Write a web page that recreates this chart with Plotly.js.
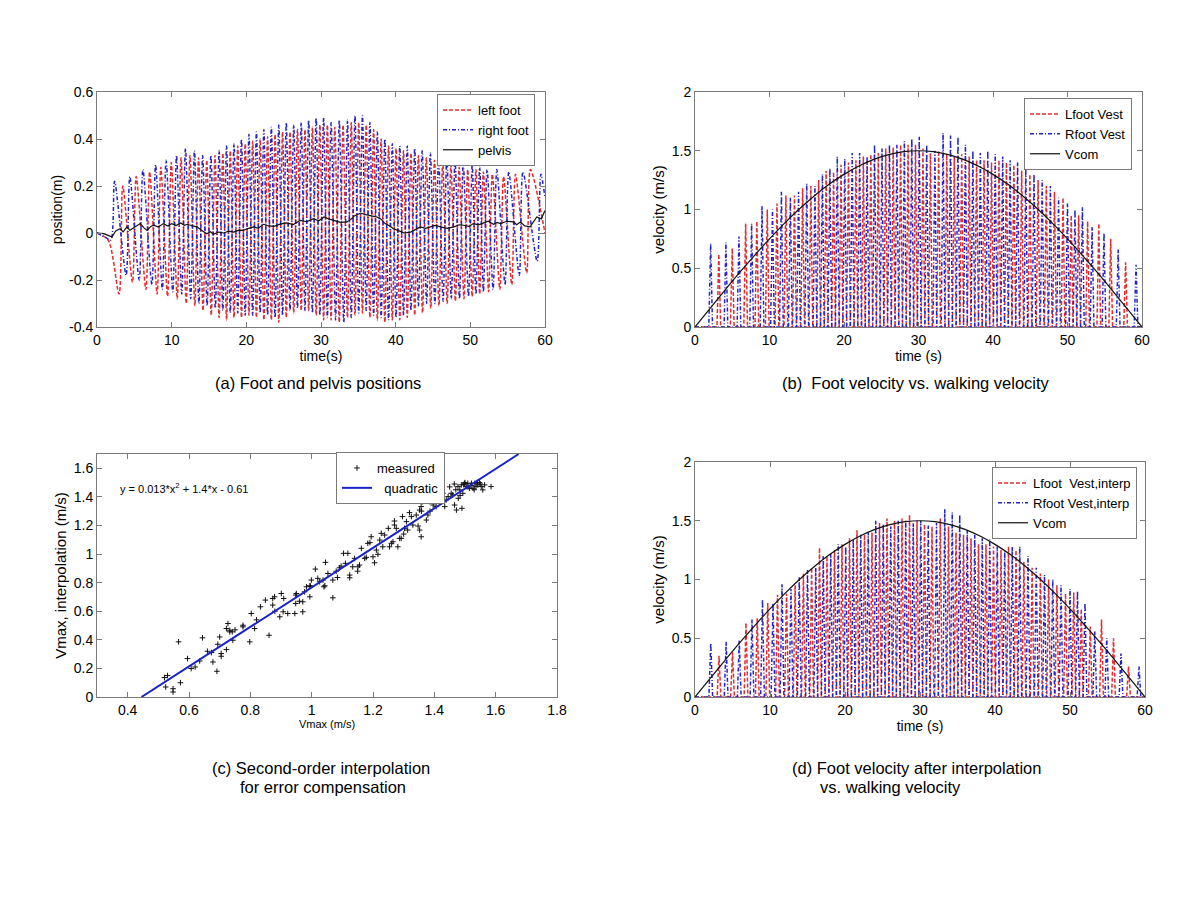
<!DOCTYPE html>
<html><head><meta charset="utf-8">
<script src="https://cdn.plot.ly/plotly-3.0.1.min.js"></script>
<style>html,body{margin:0;padding:0;background:#fff}#chart{width:1200px;height:900px}</style>
</head><body><div id="chart"></div>
<script>
// ---------------- DATA ----------------
// Gait events: time of each swing (velocity peak) for each foot, seconds
const leftStepT = [3.2,5.0,6.8,8.3,9.7,11.0,12.2,13.35,14.45,15.55,16.6,17.6,18.6,19.6,20.6,21.6,22.6,23.6,24.6,25.6,26.6,27.6,28.6,29.6,30.6,31.6,32.7,33.8,34.8,35.8,36.8,37.8,38.8,39.8,40.8,41.8,42.8,43.85,44.95,46.05,47.15,48.25,49.4,50.5,51.5,52.7,54.2,55.8,57.8];
const rightStepT = [2.1,4.15,5.9,7.6,9.0,10.4,11.6,12.8,13.9,15.0,16.1,17.1,18.1,19.1,20.1,21.1,22.1,23.1,24.1,25.1,26.1,27.1,28.1,29.1,30.1,31.1,32.2,33.3,34.3,35.3,36.3,37.3,38.3,39.3,40.3,41.3,42.3,43.3,44.4,45.5,46.6,47.7,48.8,50.0,51.0,52.0,53.3,54.9,56.8,59.2];

// (a) foot positions: value at end of each swing (max) and start of each swing (min), m
const leftPosMax = [0.20,0.24,0.26,0.28,0.30,0.32,0.33,0.32,0.31,0.33,0.34,0.35,0.37,0.38,0.39,0.40,0.41,0.42,0.43,0.43,0.44,0.44,0.45,0.46,0.46,0.45,0.46,0.47,0.47,0.46,0.44,0.40,0.37,0.36,0.35,0.34,0.33,0.32,0.31,0.30,0.29,0.28,0.27,0.27,0.26,0.25,0.24,0.25,0.27];
const leftPosMin = [-0.26,-0.21,-0.24,-0.26,-0.27,-0.28,-0.30,-0.31,-0.33,-0.35,-0.36,-0.37,-0.36,-0.36,-0.35,-0.36,-0.37,-0.37,-0.38,-0.36,-0.34,-0.33,-0.33,-0.35,-0.37,-0.37,-0.38,-0.36,-0.35,-0.34,-0.36,-0.37,-0.38,-0.37,-0.37,-0.36,-0.35,-0.34,-0.32,-0.31,-0.30,-0.29,-0.28,-0.27,-0.26,-0.25,-0.24,-0.22,-0.17];
const rightPosMax = [0.22,0.24,0.27,0.29,0.31,0.33,0.36,0.35,0.33,0.33,0.35,0.37,0.38,0.40,0.42,0.43,0.44,0.45,0.46,0.47,0.46,0.47,0.48,0.49,0.49,0.47,0.48,0.48,0.50,0.50,0.47,0.43,0.40,0.38,0.37,0.37,0.36,0.35,0.34,0.33,0.32,0.31,0.30,0.29,0.28,0.27,0.27,0.26,0.26,0.25];
const rightPosMin = [-0.03,-0.18,-0.20,-0.22,-0.24,-0.25,-0.26,-0.28,-0.30,-0.31,-0.32,-0.33,-0.34,-0.34,-0.35,-0.35,-0.34,-0.35,-0.36,-0.35,-0.33,-0.32,-0.33,-0.34,-0.35,-0.36,-0.37,-0.38,-0.36,-0.34,-0.33,-0.35,-0.36,-0.37,-0.36,-0.35,-0.33,-0.31,-0.30,-0.30,-0.29,-0.28,-0.28,-0.27,-0.26,-0.25,-0.24,-0.22,-0.18,-0.12];
const leftPosStartT = [0, 1.5];   const leftPosStartY = [0, -0.03];
const rightPosStartT = [0, 1.2];  const rightPosStartY = [0, -0.02];
const leftPosEndT = [60];         const leftPosEndY = [0.0];
const rightPosEndT = [60];        const rightPosEndY = [0.15];

const pelvisT = [0,0.9,1.5,2.0,2.5,3.1,3.5,4.0,4.4,4.7,5.2,5.8,6.3,6.7,7.2,7.6,8.2,8.9,9.5,10.0,10.6,11.2,11.7,12.1,12.8,13.4,14.0,14.7,15.2,15.6,16.3,17.0,17.6,18.3,19.0,19.6,20.3,21.0,21.6,22.3,23.0,23.7,24.5,25.4,26.3,27.2,28.1,29.0,29.7,30.4,31.0,31.7,32.6,33.5,34.0,34.4,35.3,36.0,36.6,37.5,38.0,38.6,39.2,39.7,40.4,41.1,42.0,42.6,43.3,44.0,44.6,45.3,46.0,46.9,47.8,48.5,49.1,49.8,50.4,51.1,51.8,52.4,53.1,53.6,54.0,54.9,55.8,56.2,56.7,57.3,58.0,58.5,58.9,59.5,60];
const pelvisY = [0,-0.003,-0.01,-0.017,0.009,0.018,0.005,0.026,0.012,0.018,0.03,0.04,0.022,0.011,0.028,0.033,0.025,0.04,0.03,0.04,0.032,0.043,0.033,0.037,0.03,0.026,0.012,-0.003,0.005,-0.006,0.004,0,0.008,0.004,0.012,0.011,0.02,0.026,0.02,0.037,0.03,0.028,0.038,0.043,0.036,0.054,0.048,0.061,0.052,0.068,0.06,0.054,0.045,0.047,0.058,0.071,0.085,0.078,0.075,0.068,0.06,0.04,0.03,0.018,0.01,0,0.004,0.015,0.026,0.02,0.026,0.032,0.026,0.02,0.026,0.035,0.033,0.028,0.04,0.035,0.043,0.05,0.037,0.045,0.04,0.05,0.047,0.035,0.047,0.03,0.026,0.05,0.068,0.06,0.096];

// (b) peak foot velocity per swing, m/s
const leftVestPeak = [0.62,0.67,0.88,0.90,1.00,1.05,1.12,1.12,1.18,1.20,1.25,1.33,1.32,1.38,1.40,1.42,1.45,1.47,1.48,1.52,1.53,1.55,1.55,1.55,1.52,1.48,1.50,1.47,1.45,1.47,1.45,1.42,1.42,1.40,1.42,1.40,1.38,1.33,1.30,1.25,1.20,1.15,1.10,0.95,0.95,0.90,0.88,0.75,0.55];
const rightVestPeak = [0.71,0.72,0.77,0.88,1.03,1.00,1.15,1.10,1.15,1.22,1.20,1.30,1.35,1.45,1.43,1.48,1.48,1.45,1.55,1.52,1.55,1.55,1.58,1.60,1.62,1.55,1.50,1.65,1.63,1.62,1.55,1.50,1.48,1.50,1.47,1.45,1.42,1.40,1.35,1.30,1.25,1.20,1.10,1.05,1.00,1.02,0.85,0.80,0.66,0.53];
// (d) peak foot velocity after interpolation, m/s
const leftInterpPeak = [0.35,0.38,0.63,0.67,0.80,0.87,0.88,0.95,1.05,1.10,1.27,1.20,1.25,1.30,1.35,1.42,1.38,1.40,1.48,1.52,1.50,1.52,1.55,1.50,1.47,1.45,1.52,1.45,1.40,1.38,1.35,1.30,1.30,1.28,1.25,1.28,1.25,1.15,1.10,1.05,1.00,0.95,0.88,0.89,0.75,0.60,0.66,0.50,0.26];
const rightInterpPeak = [0.46,0.47,0.48,0.66,0.83,0.80,0.96,0.92,1.02,1.08,1.10,1.20,1.22,1.30,1.28,1.34,1.38,1.40,1.50,1.47,1.45,1.50,1.50,1.48,1.50,1.46,1.48,1.60,1.57,1.55,1.42,1.38,1.35,1.34,1.28,1.24,1.28,1.28,1.20,1.10,1.04,1.00,0.95,0.92,0.90,0.80,0.56,0.50,0.37,0.26];

// walking (centre of mass) velocity
const vcomT = [0,2,4,6,8,10,12,14,16,18,20,22,24,26,28,30,32,34,36,38,40,42,44,46,48,50,52,54,56,58,60];
const vcomV = [0,0.157,0.312,0.464,0.610,0.750,0.882,1.004,1.115,1.214,1.299,1.370,1.427,1.467,1.492,1.500,1.492,1.467,1.427,1.370,1.299,1.214,1.115,1.004,0.882,0.750,0.610,0.464,0.312,0.157,0];

// (c) measured points and fitted quadratic
const measX = [0.520,0.524,0.548,0.548,0.566,0.572,0.595,0.607,0.644,0.635,0.673,0.678,0.694,0.705,0.705,0.722,0.722,0.727,0.733,0.733,0.741,0.743,0.776,0.776,0.798,0.803,0.814,0.833,0.849,0.861,0.873,0.873,0.879,0.896,0.901,0.907,0.909,0.922,0.945,0.948,0.948,0.950,0.971,0.971,0.977,0.983,0.994,0.994,0.996,0.999,1.012,1.026,1.037,1.040,1.043,1.045,1.053,1.069,1.069,1.084,1.091,1.096,1.104,1.110,1.118,1.124,1.124,1.134,1.140,1.151,1.156,1.162,1.173,1.178,1.183,1.194,1.200,1.205,1.211,1.216,1.222,1.227,1.232,1.238,1.254,1.260,1.265,1.270,1.270,1.276,1.281,1.287,1.292,1.296,1.303,1.309,1.313,1.319,1.325,1.330,1.341,1.347,1.352,1.352,1.357,1.357,1.362,1.374,1.379,1.385,1.396,1.400,1.406,1.411,1.417,1.428,1.434,1.439,1.445,1.455,1.460,1.466,1.472,1.477,1.483,1.488,1.493,1.498,1.504,1.509,1.515,1.521,1.526,1.532,1.536,1.542,1.547,1.553,1.558,1.564,1.585,1.478,1.484,1.470,1.450,1.420,1.386,1.358,1.490,1.500,1.520,1.540,1.510,1.530,1.550,1.496,1.465,1.300,1.250,1.190,1.150,1.080,1.020,0.960,0.880,0.820,0.750,0.700,0.660,0.620,0.530,0.691];
const measY = [0.136,0.070,0.058,0.035,0.386,0.100,0.269,0.199,0.414,0.252,0.311,0.245,0.369,0.304,0.285,0.332,0.479,0.514,0.456,0.467,0.456,0.397,0.502,0.491,0.386,0.584,0.479,0.631,0.678,0.432,0.689,0.643,0.701,0.561,0.724,0.596,0.689,0.584,0.584,0.654,0.713,0.724,0.596,0.666,0.736,0.771,0.701,0.778,0.776,0.818,0.895,0.806,0.818,0.771,0.778,0.942,0.864,0.694,0.818,0.836,0.904,0.916,1.005,0.935,1.005,0.853,0.834,0.911,0.970,0.911,0.923,1.040,0.970,0.977,1.075,1.121,0.981,0.939,1.028,0.998,1.098,1.145,1.051,1.133,1.051,1.075,1.086,1.203,1.231,1.180,1.051,1.110,1.110,1.262,1.180,1.227,1.168,1.290,1.262,1.203,1.273,1.196,1.308,1.168,1.121,1.332,1.367,1.238,1.273,1.367,1.343,1.425,1.332,1.390,1.414,1.425,1.332,1.379,1.402,1.425,1.414,1.343,1.308,1.472,1.449,1.484,1.425,1.495,1.472,1.495,1.460,1.495,1.460,1.495,1.472,1.484,1.500,1.472,1.449,1.484,1.472,1.390,1.410,1.450,1.470,1.380,1.300,1.300,1.320,1.500,1.480,1.500,1.470,1.450,1.490,1.485,1.490,1.140,1.180,1.080,0.880,0.880,0.830,0.670,0.600,0.540,0.470,0.420,0.320,0.210,0.150,0.180];
const quadX = [0.445, 0.8, 1.2, 1.675];
const quadY = [0, 0.49, 1.043, 1.7];

// tick labels
const posTickVals = [-0.4,-0.2,0,0.2,0.4,0.6];
const posTickText = ['-0.4','-0.2','0','0.2','0.4','0.6'];

// ---------------- BUILD ----------------
const SW = 0.25; // half duration of a swing stroke (s)
const RED = 'rgb(225,45,45)', BLUE = 'rgb(35,35,195)';

function velSeries(stepT, peak) {
  const x = [0], y = [0];
  stepT.forEach((t, i) => { x.push(t - SW, t, t + SW); y.push(0, peak[i], 0); });
  x.push(60); y.push(0);
  return {x, y};
}
function posSeries(st, sy, stepT, mn, mx, et, ey) {
  const x = st.slice(), y = sy.slice();
  stepT.forEach((t, i) => { x.push(t - SW, t + SW); y.push(mn[i], mx[i]); });
  et.forEach((t, i) => { x.push(t); y.push(ey[i]); });
  return {x, y};
}

const lp = posSeries(leftPosStartT, leftPosStartY, leftStepT, leftPosMin, leftPosMax, leftPosEndT, leftPosEndY);
const rp = posSeries(rightPosStartT, rightPosStartY, rightStepT, rightPosMin, rightPosMax, rightPosEndT, rightPosEndY);
const lv = velSeries(leftStepT, leftVestPeak), rv = velSeries(rightStepT, rightVestPeak);
const li = velSeries(leftStepT, leftInterpPeak), ri = velSeries(rightStepT, rightInterpPeak);

const redLine = {color: RED, width: 1.5, dash: '4px,2px'};
const blueLine = {color: BLUE, width: 1.5, dash: '4px,2px,1px,2px'};

const traces = [
  {x: lp.x, y: lp.y, xaxis: 'x', yaxis: 'y', name: 'left foot', mode: 'lines', line: Object.assign({shape: 'spline', smoothing: 0.8}, redLine), legend: 'legend'},
  {x: rp.x, y: rp.y, xaxis: 'x', yaxis: 'y', name: 'right foot', mode: 'lines', line: Object.assign({shape: 'spline', smoothing: 0.8}, blueLine), legend: 'legend'},
  {x: pelvisT, y: pelvisY, xaxis: 'x', yaxis: 'y', name: 'pelvis', mode: 'lines', line: {color: '#111', width: 1.2}, legend: 'legend'},

  {x: lv.x, y: lv.y, xaxis: 'x2', yaxis: 'y2', name: 'Lfoot Vest', mode: 'lines', line: redLine, legend: 'legend2'},
  {x: rv.x, y: rv.y, xaxis: 'x2', yaxis: 'y2', name: 'Rfoot Vest', mode: 'lines', line: blueLine, legend: 'legend2'},
  {x: vcomT, y: vcomV, xaxis: 'x2', yaxis: 'y2', name: 'Vcom', mode: 'lines', line: {color: '#111', width: 1.2, shape: 'spline'}, legend: 'legend2'},

  {x: measX, y: measY, xaxis: 'x3', yaxis: 'y3', name: 'measured', mode: 'markers', marker: {symbol: 'cross-thin', size: 4, color: '#111', line: {width: 1, color: '#111'}}, legend: 'legend3'},
  {x: quadX, y: quadY, xaxis: 'x3', yaxis: 'y3', name: '  quadratic', mode: 'lines', line: {color: 'rgb(25,35,200)', width: 2, shape: 'spline'}, legend: 'legend3'},

  {x: li.x, y: li.y, xaxis: 'x4', yaxis: 'y4', name: 'Lfoot  Vest,interp', mode: 'lines', line: redLine, legend: 'legend4'},
  {x: ri.x, y: ri.y, xaxis: 'x4', yaxis: 'y4', name: 'Rfoot Vest,interp', mode: 'lines', line: blueLine, legend: 'legend4'},
  {x: vcomT, y: vcomV, xaxis: 'x4', yaxis: 'y4', name: 'Vcom', mode: 'lines', line: {color: '#111', width: 1.2, shape: 'spline'}, legend: 'legend4'}
];

function ax(extra) {
  return Object.assign({showline: true, mirror: 'ticks', linecolor: '#7a7a7a', linewidth: 1,
    ticks: 'inside', ticklen: 5, tickcolor: '#7a7a7a', showgrid: false, zeroline: false,
    tickfont: {size: 14, color: '#000'}, automargin: false, fixedrange: true}, extra);
}
function leg(x, y, anchor) {
  return {x: x, y: y, xanchor: anchor, yanchor: 'top', xref: 'paper', yref: 'paper',
    bordercolor: '#7a7a7a', borderwidth: 1, bgcolor: '#fff', font: {size: 13, color: '#000'},
    itemwidth: 30, tracegroupgap: 0, traceorder: 'normal'};
}
function cap(text, px, py) {
  return {text: text, x: px / 1200, y: 1 - py / 900, xref: 'paper', yref: 'paper',
    showarrow: false, xanchor: 'center', yanchor: 'middle', font: {size: 16.5, color: '#000'}};
}

const layout = {
  width: 1200, height: 900, margin: {l: 0, r: 0, t: 0, b: 0},
  paper_bgcolor: '#fff', plot_bgcolor: '#fff',
  font: {family: '"Liberation Sans", Arial, sans-serif', color: '#000'},
  showlegend: true,
  xaxis: ax({domain: [97/1200, 545/1200], range: [0, 60], dtick: 10, anchor: 'y',
    title: {text: 'time(s)', font: {size: 14}, standoff: 0}}),
  yaxis: ax({domain: [1 - 327/900, 1 - 92/900], range: [-0.4, 0.6], tickvals: posTickVals, ticktext: posTickText, anchor: 'x',
    title: {text: 'position(m)', font: {size: 14}, standoff: 3}}),
  xaxis2: ax({domain: [695/1200, 1142/1200], range: [0, 60], dtick: 10, anchor: 'y2',
    title: {text: 'time (s)', font: {size: 14}, standoff: 0}}),
  yaxis2: ax({domain: [1 - 327/900, 1 - 92/900], range: [0, 2], dtick: 0.5, anchor: 'x2',
    title: {text: 'velocity (m/s)', font: {size: 15}, standoff: 3}}),
  xaxis3: ax({domain: [97/1200, 557/1200], range: [0.3, 1.8], tick0: 0.4, dtick: 0.2, anchor: 'y3',
    title: {text: 'Vmax (m/s)', font: {size: 11}, standoff: 2}}),
  yaxis3: ax({domain: [1 - 697/900, 1 - 454/900], range: [0, 1.7], dtick: 0.2, anchor: 'x3',
    title: {text: 'Vmax, interpolation (m/s)', font: {size: 15}, standoff: 3}}),
  xaxis4: ax({domain: [695/1200, 1145/1200], range: [0, 60], dtick: 10, anchor: 'y4',
    title: {text: 'time (s)', font: {size: 14}, standoff: 0}}),
  yaxis4: ax({domain: [1 - 697/900, 1 - 462/900], range: [0, 2], dtick: 0.5, anchor: 'x4',
    title: {text: 'velocity (m/s)', font: {size: 15}, standoff: 3}}),
  legend: leg(535/1200, 1 - 94/900, 'right'),
  legend2: leg(1132/1200, 1 - 98/900, 'right'),
  legend3: leg(336/1200, 1 - 452/900, 'left'),
  legend4: leg(1137/1200, 1 - 467/900, 'right'),
  annotations: [
    cap('(a) Foot and pelvis positions', 318, 383),
    cap('(b)  Foot velocity vs. walking velocity', 916, 383),
    cap('(c) Second-order interpolation', 321, 768),
    cap('for error compensation', 323, 787),
    cap('(d) Foot velocity after interpolation', 916, 768),
    cap('vs. walking velocity', 890, 787),
    {text: 'y = 0.013*x<sup>2</sup> + 1.4*x - 0.61', x: 0.37, y: 1.46, xref: 'x3', yref: 'y3',
      xanchor: 'left', yanchor: 'middle', showarrow: false, font: {size: 11, color: '#000'}}
  ]
};

Plotly.newPlot('chart', traces, layout, {staticPlot: true, displayModeBar: false});
</script>
</body></html>
